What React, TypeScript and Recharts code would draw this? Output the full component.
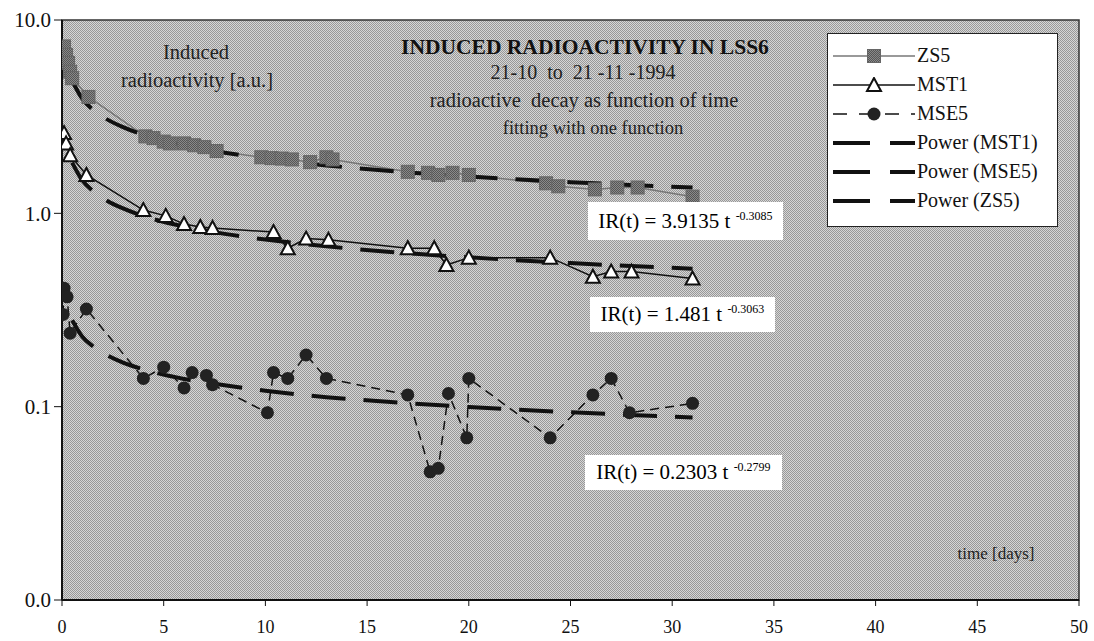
import React from 'react';
import { CartesianGrid, Legend, Line, LineChart, ReferenceArea, XAxis, YAxis } from 'recharts';

// time in days / induced radioactivity (a.u.)
const zs5Days = [0.1, 0.2, 0.3, 0.4, 0.5, 1.3, 4.1, 4.5, 5.0, 5.3, 6.0, 6.5, 7.0, 7.6, 9.8, 10.3, 10.8, 11.3, 12.2, 13.0, 13.3, 17.0, 18.0, 18.5, 19.2, 20.0, 23.8, 24.4, 26.2, 27.3, 28.3, 31.0];
const zs5Values = [7.3, 6.6, 6.0, 5.4, 5.0, 4.0, 2.5, 2.45, 2.35, 2.3, 2.3, 2.25, 2.2, 2.1, 1.95, 1.93, 1.92, 1.9, 1.84, 1.95, 1.9, 1.64, 1.62, 1.58, 1.62, 1.58, 1.43, 1.38, 1.33, 1.36, 1.36, 1.22];

const mst1Days = [0.1, 0.2, 0.4, 1.2, 4.0, 5.1, 6.0, 6.8, 7.4, 10.4, 11.1, 12.0, 13.1, 17.0, 18.3, 18.9, 20.0, 24.0, 26.1, 27.0, 28.0, 31.0];
const mst1Values = [2.6, 2.3, 2.0, 1.58, 1.04, 0.97, 0.88, 0.85, 0.84, 0.8, 0.66, 0.74, 0.73, 0.66, 0.66, 0.54, 0.59, 0.59, 0.47, 0.5, 0.5, 0.46];

const mse5Days = [0.05, 0.1, 0.25, 0.4, 1.2, 4.0, 5.0, 6.0, 6.4, 7.1, 7.4, 10.1, 10.4, 11.1, 12.0, 13.0, 17.0, 18.1, 18.5, 19.0, 19.9, 20.0, 24.0, 26.1, 27.0, 27.9, 31.0];
const mse5Values = [0.3, 0.41, 0.37, 0.24, 0.32, 0.14, 0.16, 0.125, 0.15, 0.145, 0.13, 0.093, 0.15, 0.14, 0.185, 0.14, 0.115, 0.046, 0.048, 0.117, 0.069, 0.14, 0.069, 0.115, 0.14, 0.093, 0.104];

// power trendlines as drawn
const fitDays = [0.5, 1, 1.5, 2, 3, 4, 6, 8, 10, 13, 16, 20, 25, 31];
const fitZS5 = [4.85, 3.91, 3.45, 3.16, 2.79, 2.55, 2.25, 2.06, 1.92, 1.77, 1.66, 1.55, 1.45, 1.36];
const fitMST1 = [1.83, 1.48, 1.31, 1.2, 1.06, 0.969, 0.855, 0.783, 0.732, 0.675, 0.633, 0.592, 0.553, 0.517];
const fitMSE5 = [0.28, 0.23, 0.206, 0.19, 0.169, 0.156, 0.139, 0.129, 0.121, 0.112, 0.106, 0.0996, 0.0935, 0.088];

const legendOrder = ['ZS5', 'MST1', 'MSE5', 'Power (MST1)', 'Power (MSE5)', 'Power (ZS5)'];

const xTicks = [0, 5, 10, 15, 20, 25, 30, 35, 40, 45, 50];
const yTicks = [0.01, 0.1, 1, 10];

const rows = (days: number[], vals: number[]) => days.map((t, i) => ({ t, v: vals[i] }));

const FONT = '"Liberation Serif", "Times New Roman", serif';
const FIT_DASH = '34 18';

const Square = (p: any) =>
  p.cx == null ? null : (
    <rect key={'s' + p.index} x={p.cx - 6.5} y={p.cy - 6.5} width={13} height={13} fill="url(#sqfill)" stroke="#666" strokeWidth={1} />
  );

const Triangle = (p: any) =>
  p.cx == null ? null : (
    <polygon
      key={'t' + p.index}
      points={`${p.cx},${p.cy - 7} ${p.cx - 7},${p.cy + 6} ${p.cx + 7},${p.cy + 6}`}
      fill="#fff"
      stroke="#111"
      strokeWidth={2}
    />
  );

function LegendSymbol({ name }: { name: string }) {
  const mid = 41;
  if (name === 'ZS5')
    return (
      <svg width={82} height={16}>
        <line x1={0} y1={8} x2={82} y2={8} stroke="#777" strokeWidth={1.5} />
        <rect x={mid - 6.5} y={1.5} width={13} height={13} fill="url(#sqfill)" stroke="#666" />
      </svg>
    );
  if (name === 'MST1')
    return (
      <svg width={82} height={16}>
        <line x1={0} y1={8} x2={82} y2={8} stroke="#111" strokeWidth={1.5} />
        <polygon points={`${mid},1 ${mid - 7},14 ${mid + 7},14`} fill="#fff" stroke="#111" strokeWidth={2} />
      </svg>
    );
  if (name === 'MSE5')
    return (
      <svg width={82} height={16}>
        <line x1={0} y1={8} x2={82} y2={8} stroke="#111" strokeWidth={1.5} strokeDasharray="14 12" />
        <circle cx={mid} cy={8} r={6.5} fill="#222" />
      </svg>
    );
  return (
    <svg width={82} height={16}>
      <line x1={0} y1={8} x2={82} y2={8} stroke="#111" strokeWidth={4} strokeDasharray="37 20" />
    </svg>
  );
}

function LegendBox(props: any) {
  const items = ((props.payload || []) as any[])
    .slice()
    .sort((a, b) => legendOrder.indexOf(a.value) - legendOrder.indexOf(b.value));
  return (
    <div
      style={{
        width: 231,
        height: 194,
        boxSizing: 'border-box',
        background: '#fff',
        border: '1.5px solid #222',
        padding: '7px 0 0 5px',
        fontFamily: FONT,
        fontSize: 20,
        color: '#111',
      }}
    >
      {items.map((e) => (
        <div key={e.value} style={{ display: 'flex', alignItems: 'center', height: 29 }}>
          <LegendSymbol name={e.value} />
          <span style={{ marginLeft: 2 }}>{e.value}</span>
        </div>
      ))}
    </div>
  );
}

function Equation({ left, top, width, height, coef, exp }: any) {
  return (
    <div
      style={{
        position: 'absolute',
        left,
        top,
        width,
        height,
        background: '#fff',
        display: 'flex',
        alignItems: 'center',
        justifyContent: 'center',
        fontFamily: FONT,
        fontSize: 21,
        color: '#000',
        whiteSpace: 'nowrap',
      }}
    >
      <span>
        IR(t) = {coef} t <sup style={{ fontSize: 12, verticalAlign: 8 }}>{exp}</sup>
      </span>
    </div>
  );
}

const note: React.CSSProperties = {
  position: 'absolute',
  fontFamily: FONT,
  color: '#222',
  whiteSpace: 'nowrap',
  transform: 'translate(-50%, -50%)',
  lineHeight: 1,
};

export default function App() {
  return (
    <div style={{ position: 'absolute', left: 0, top: 0, width: 1094, height: 641, background: '#fff', fontFamily: FONT }}>
      <svg width={0} height={0} style={{ position: 'absolute' }}>
        <defs>
          <pattern id="dots" width={2} height={2} patternUnits="userSpaceOnUse">
            <rect width={2} height={2} fill="#d6d6d6" />
            <rect width={1} height={1} fill="#989898" />
            <rect x={1} y={1} width={1} height={1} fill="#989898" />
          </pattern>
          <pattern id="sqfill" width={2} height={2} patternUnits="userSpaceOnUse">
            <rect width={2} height={2} fill="#8a8a8a" />
            <rect width={1} height={1} fill="#555" />
            <rect x={1} y={1} width={1} height={1} fill="#555" />
          </pattern>
        </defs>
      </svg>
      <LineChart width={1094} height={641} margin={{ top: 20, right: 15, left: 0, bottom: 0 }}>
        <CartesianGrid horizontal={false} vertical={false} fill="url(#dots)" fillOpacity={1} />
        <XAxis
          type="number"
          dataKey="t"
          domain={[0, 50]}
          ticks={xTicks}
          height={41}
          tickSize={6}
          tickMargin={14}
          axisLine={{ stroke: '#111', strokeWidth: 2 }}
          tickLine={{ stroke: '#111' }}
          tick={{ fill: '#111', fontSize: 18, fontFamily: FONT }}
          allowDataOverflow
        />
        <YAxis
          scale="log"
          domain={[0.01, 10]}
          ticks={yTicks}
          width={62}
          tickSize={8}
          tickMargin={3}
          tickFormatter={(v: number) => v.toFixed(1)}
          axisLine={{ stroke: '#111', strokeWidth: 2 }}
          tickLine={{ stroke: '#111' }}
          tick={{ fill: '#111', fontSize: 21, fontFamily: FONT }}
          allowDataOverflow
        />
        <ReferenceArea x1={0} x2={50} y1={0.01} y2={10} fill="none" stroke="#333" strokeWidth={1.5} />
        <Legend layout="vertical" align="center" verticalAlign="middle" wrapperStyle={{ left: 827, top: 33, width: 231, height: 194 }} content={<LegendBox />} />

        <Line data={rows(zs5Days, zs5Values)} dataKey="v" name="ZS5" type="linear" stroke="#777" strokeWidth={1.5} dot={Square} activeDot={false} isAnimationActive={false} />
        <Line data={rows(mst1Days, mst1Values)} dataKey="v" name="MST1" type="linear" stroke="#111" strokeWidth={1.5} dot={Triangle} activeDot={false} isAnimationActive={false} />
        <Line data={rows(mse5Days, mse5Values)} dataKey="v" name="MSE5" type="linear" stroke="#111" strokeWidth={1.5} strokeDasharray="9 6" dot={{ r: 6.5, fill: '#222', stroke: '#222', strokeWidth: 0 }} activeDot={false} isAnimationActive={false} />
        <Line data={rows(fitDays, fitMST1)} dataKey="v" name="Power (MST1)" type="monotone" stroke="#111" strokeWidth={4} strokeDasharray={FIT_DASH} dot={false} activeDot={false} isAnimationActive={false} />
        <Line data={rows(fitDays, fitMSE5)} dataKey="v" name="Power (MSE5)" type="monotone" stroke="#111" strokeWidth={4} strokeDasharray={FIT_DASH} dot={false} activeDot={false} isAnimationActive={false} />
        <Line data={rows(fitDays, fitZS5)} dataKey="v" name="Power (ZS5)" type="monotone" stroke="#111" strokeWidth={4} strokeDasharray={FIT_DASH} dot={false} activeDot={false} isAnimationActive={false} />
      </LineChart>

      <div style={{ ...note, left: 196, top: 52, fontSize: 20.5 }}>Induced</div>
      <div style={{ ...note, left: 197, top: 80, fontSize: 20.5 }}>radioactivity [a.u.]</div>

      <div style={{ ...note, left: 585, top: 48, fontSize: 21.5, fontWeight: 'bold', color: '#111' }}>INDUCED RADIOACTIVITY IN LSS6</div>
      <div style={{ ...note, left: 583, top: 72, fontSize: 20 }}>21-10&nbsp; to&nbsp; 21 -11 -1994</div>
      <div style={{ ...note, left: 584, top: 100, fontSize: 20.5 }}>radioactive&nbsp; decay as function of time</div>
      <div style={{ ...note, left: 593, top: 128, fontSize: 18.5 }}>fitting with one function</div>

      <div style={{ ...note, left: 996, top: 553, fontSize: 17 }}>time [days]</div>

      <Equation left={588} top={202} width={195} height={38} coef="3.9135" exp="-0.3085" />
      <Equation left={590} top={297} width={185} height={35} coef="1.481" exp="-0.3063" />
      <Equation left={585} top={455} width={197} height={35} coef="0.2303" exp="-0.2799" />
    </div>
  );
}
